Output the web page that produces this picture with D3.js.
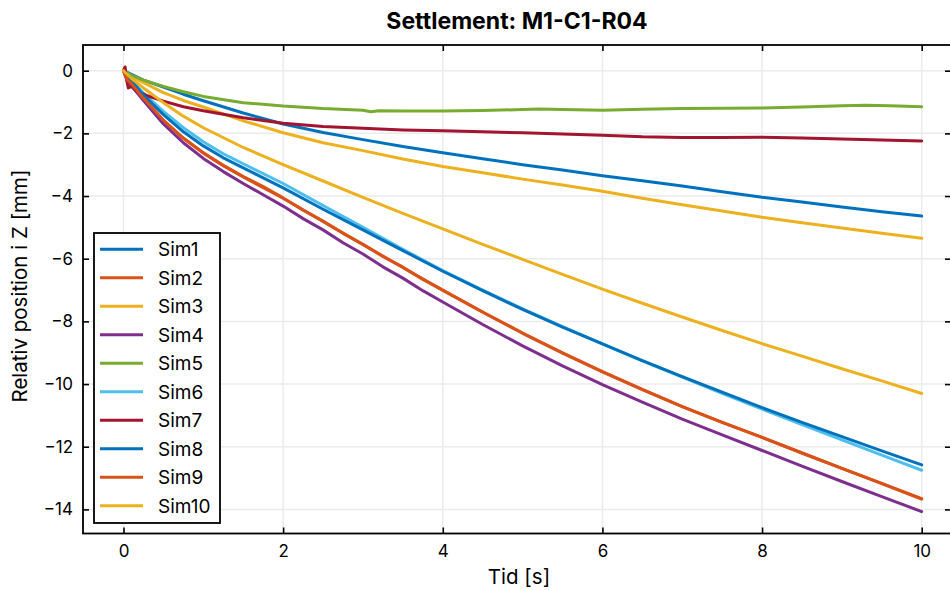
<!DOCTYPE html>
<html><head><meta charset="utf-8">
<script src="https://cdn.jsdelivr.net/npm/d3@7"></script>
<style>body{margin:0;background:#fff}svg{display:block;font-family:Inter,"Noto Sans",sans-serif}</style>
</head><body><svg id="c" width="950" height="590"></svg>
<script>
const title = "Settlement: M1-C1-R04";
const xLabel = "Tid [s]";
const yLabel = "Relativ position i Z [mm]";
const xTicks = [0, 2, 4, 6, 8, 10];
const yTicks = [0, -2, -4, -6, -8, -10, -12, -14];
const seriesNames = ["Sim1","Sim2","Sim3","Sim4","Sim5","Sim6","Sim7","Sim8","Sim9","Sim10"];
const colors = ["#0072BD","#D95319","#EDB120","#7E2F8E","#77AC30","#4DBEEE","#A2142F","#0072BD","#D95319","#EDB120"];

const sim1 = [[0,0],[0.1,-0.12],[0.25,-0.3],[0.5,-0.52],[0.75,-0.75],[1,-0.96],[1.5,-1.35],[2,-1.7],[2.5,-1.97],[3,-2.2],[3.5,-2.42],[4,-2.62],[4.5,-2.81],[5,-3.0],[5.5,-3.17],[6,-3.35],[6.5,-3.51],[7,-3.68],[7.5,-3.86],[8,-4.04],[8.5,-4.19],[9,-4.35],[9.5,-4.5],[10,-4.64]];
const sim2 = [[0,0],[0.05,-0.32],[0.1,-0.44],[0.25,-0.89],[0.5,-1.59],[0.75,-2.16],[1,-2.63],[1.25,-3.03],[1.5,-3.39],[2,-4.07],[2.5,-4.81],[3,-5.55],[3.5,-6.28],[4,-7.01],[4.5,-7.71],[5,-8.38],[5.5,-9.01],[6,-9.61],[6.5,-10.18],[7,-10.72],[7.5,-11.22],[8,-11.7],[8.5,-12.2],[9,-12.69],[9.5,-13.17],[10,-13.66]];
const sim3 = [[0,0],[0.1,-0.18],[0.25,-0.38],[0.5,-0.7],[0.75,-0.95],[1,-1.16],[1.5,-1.6],[2,-1.98],[2.5,-2.3],[3,-2.55],[3.5,-2.82],[4,-3.06],[4.5,-3.26],[5,-3.46],[5.5,-3.65],[6,-3.85],[6.5,-4.07],[7,-4.28],[7.5,-4.48],[8,-4.68],[8.5,-4.85],[9,-5.02],[9.5,-5.19],[10,-5.35]];
const sim4 = [[0,0],[0.05,-0.35],[0.1,-0.48],[0.25,-0.95],[0.5,-1.7],[0.75,-2.3],[1,-2.8],[1.25,-3.22],[1.5,-3.6],[1.75,-3.96],[2,-4.32],[2.25,-4.72],[2.5,-5.08],[2.75,-5.49],[3,-5.85],[3.25,-6.26],[3.5,-6.62],[3.75,-7.02],[4,-7.38],[4.5,-8.1],[5,-8.78],[5.5,-9.42],[6,-10.02],[6.5,-10.58],[7,-11.12],[7.5,-11.62],[8,-12.12],[8.5,-12.62],[9,-13.11],[9.5,-13.59],[10,-14.07]];
const sim5 = [[0,0],[0.1,-0.15],[0.25,-0.3],[0.5,-0.5],[0.75,-0.67],[1,-0.82],[1.5,-1.02],[2,-1.13],[2.5,-1.21],[3,-1.26],[3.1,-1.31],[3.2,-1.28],[3.5,-1.29],[4,-1.29],[4.5,-1.27],[5,-1.24],[5.2,-1.22],[5.5,-1.24],[6,-1.26],[6.5,-1.23],[7,-1.21],[7.5,-1.2],[8,-1.19],[8.5,-1.16],[9,-1.12],[9.3,-1.1],[9.6,-1.12],[10,-1.15]];
const sim6 = [[0,0],[0.05,-0.15],[0.1,-0.3],[0.25,-0.72],[0.5,-1.3],[0.75,-1.82],[1,-2.27],[1.25,-2.65],[1.5,-2.97],[2,-3.6],[2.5,-4.3],[3,-5.0],[3.5,-5.7],[4,-6.38],[4.5,-7.0],[5,-7.6],[5.5,-8.17],[6,-8.72],[6.5,-9.26],[7,-9.78],[7.5,-10.3],[8,-10.8],[8.5,-11.29],[9,-11.78],[9.5,-12.27],[10,-12.75]];
const sim7 = [[0,0],[0.02,0.12],[0.04,-0.3],[0.06,-0.55],[0.1,-0.5],[0.15,-0.62],[0.3,-0.8],[0.5,-0.97],[0.75,-1.15],[1,-1.28],[1.5,-1.5],[2,-1.68],[2.5,-1.78],[3,-1.84],[3.5,-1.89],[4,-1.92],[4.5,-1.95],[5,-1.98],[5.5,-2.02],[6,-2.06],[6.5,-2.11],[7,-2.13],[7.5,-2.13],[8,-2.12],[8.5,-2.15],[9,-2.18],[9.5,-2.21],[10,-2.24]];
const sim8 = [[0,0],[0.05,-0.16],[0.1,-0.32],[0.25,-0.78],[0.5,-1.4],[0.75,-1.95],[1,-2.4],[1.25,-2.78],[1.5,-3.1],[2,-3.74],[2.5,-4.42],[3,-5.08],[3.5,-5.74],[4,-6.4],[4.5,-7.02],[5,-7.62],[5.5,-8.18],[6,-8.72],[6.5,-9.25],[7,-9.76],[7.5,-10.26],[8,-10.75],[8.5,-11.22],[9,-11.68],[9.5,-12.13],[10,-12.58]];
const sim9 = [[0,0],[0.05,-0.3],[0.1,-0.42],[0.25,-0.88],[0.5,-1.58],[0.75,-2.15],[1,-2.62],[1.25,-3.02],[1.5,-3.38],[1.75,-3.7],[2,-4.06],[2.25,-4.45],[2.5,-4.8],[2.75,-5.19],[3,-5.54],[3.25,-5.93],[3.5,-6.27],[3.75,-6.66],[4,-7.0],[4.5,-7.7],[5,-8.37],[5.5,-9.0],[6,-9.6],[6.5,-10.17],[7,-10.72],[7.5,-11.22],[8,-11.7],[8.5,-12.2],[9,-12.69],[9.5,-13.18],[10,-13.67]];
const sim10 = [[0,0],[0.1,-0.25],[0.25,-0.55],[0.5,-1.02],[0.75,-1.45],[1,-1.82],[1.5,-2.45],[2,-3.0],[2.5,-3.52],[3,-4.04],[3.5,-4.55],[4,-5.05],[4.5,-5.54],[5,-6.02],[5.5,-6.5],[6,-6.97],[6.5,-7.42],[7,-7.86],[7.5,-8.29],[8,-8.71],[8.5,-9.11],[9,-9.51],[9.5,-9.9],[10,-10.3]];
const seriesData = [sim1,sim2,sim3,sim4,sim5,sim6,sim7,sim8,sim9,sim10];

const svg = d3.select("#c");
const L = 83, R = 951, T = 45, B = 533.5;
const x = d3.scaleLinear().domain([0, 10]).range([123.5, 921.7]);
const y = d3.scaleLinear().domain([0, -14]).range([70.7, 509.4]);
const fmt = v => (v < 0 ? "\u2212" + Math.abs(v) : String(v));

// grid
const g = svg.append("g");
g.selectAll(".gx").data(xTicks).join("line").attr("x1", d => x(d)).attr("x2", d => x(d))
  .attr("y1", T).attr("y2", B).attr("stroke", "#ebebeb").attr("stroke-width", 1.5);
g.selectAll(".gy").data(yTicks).join("line").attr("y1", d => y(d)).attr("y2", d => y(d))
  .attr("x1", L).attr("x2", R).attr("stroke", "#ebebeb").attr("stroke-width", 1.5);

// lines
const line = d3.line().x(d => x(d[0])).y(d => y(d[1]));
svg.append("clipPath").attr("id","clp").append("rect").attr("x",L).attr("y",T).attr("width",R-L).attr("height",B-T);
svg.append("g").attr("clip-path","url(#clp)").selectAll("path").data(seriesData).join("path")
  .attr("d", line).attr("fill", "none").attr("stroke", (d, i) => colors[i])
  .attr("stroke-width", 3).attr("stroke-linejoin", "round").attr("stroke-linecap","round");

// axes with inward ticks
const axB = d3.axisBottom(x).tickValues(xTicks).tickFormat(fmt).tickSizeInner(-6).tickSizeOuter(0).tickPadding(11);
const axL = d3.axisLeft(y).tickValues(yTicks).tickFormat(fmt).tickSizeInner(-6).tickSizeOuter(0).tickPadding(10);
const axT = d3.axisTop(x).tickValues(xTicks).tickFormat("").tickSizeInner(-6).tickSizeOuter(0);
const axR = d3.axisRight(y).tickValues(yTicks).tickFormat("").tickSizeInner(-6).tickSizeOuter(0);
function style(sel){
  sel.select(".domain").remove();
  sel.selectAll(".tick line").attr("stroke","#000").attr("stroke-width",1.6);
  sel.selectAll(".tick text").attr("font-size",17).attr("fill","#000").attr("font-family","Inter");
}
svg.append("g").attr("transform",`translate(0,${B})`).call(axB).call(style);
svg.append("g").attr("transform",`translate(${L},0)`).call(axL).call(style);
svg.append("g").attr("transform",`translate(0,${T})`).call(axT).call(style);
svg.append("g").attr("transform",`translate(${R},0)`).call(axR).call(style);

// frame
svg.append("rect").attr("x",L).attr("y",T).attr("width",R-L).attr("height",B-T)
  .attr("fill","none").attr("stroke","#000").attr("stroke-width",1.8);

// labels
svg.append("text").attr("x",517).attr("y",29).attr("text-anchor","middle")
  .attr("font-size",23).attr("font-weight","bold").text(title);
svg.append("text").attr("x",519).attr("y",584).attr("text-anchor","middle")
  .attr("font-size",20.5).text(xLabel);
svg.append("text").attr("transform",`translate(27,286) rotate(-90)`).attr("text-anchor","middle")
  .attr("font-size",20.5).text(yLabel);

// legend
const lg = svg.append("g");
lg.append("rect").attr("x",94).attr("y",233).attr("width",126).attr("height",290)
  .attr("fill","#fff").attr("stroke","#000").attr("stroke-width",1.8);
const items = lg.selectAll(".it").data(seriesNames).join("g")
  .attr("transform",(d,i)=>`translate(0,${249.3 + i*28.5})`);
items.append("line").attr("x1",100).attr("x2",143).attr("stroke",(d,i)=>colors[i]).attr("stroke-width",3);
items.append("text").attr("x",158).attr("y",7).attr("font-size",19).text(d=>d);
</script></body></html>
